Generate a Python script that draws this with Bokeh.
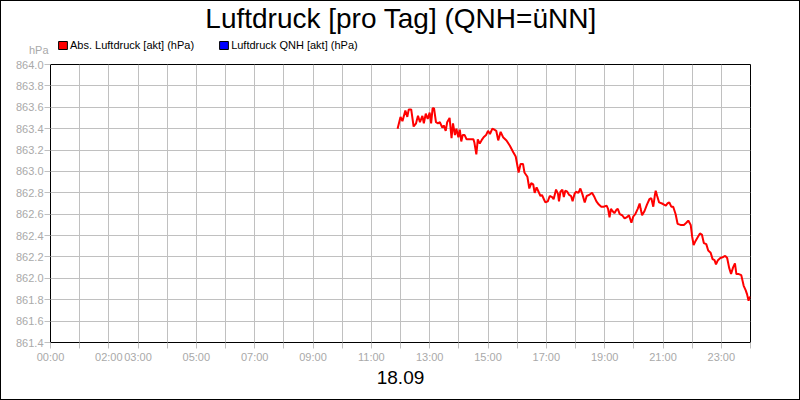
from bokeh.plotting import figure
from bokeh.layouts import column
from bokeh.models import (Range1d, FixedTicker, Label, Legend, LegendItem,
                          PrintfTickFormatter, LinearAxis)
from bokeh.embed import file_html
from bokeh.resources import INLINE

title_text = "Luftdruck [pro Tag] (QNH=üNN]"
date_text = "18.09"
unit_text = "hPa"
series_names = ["Abs. Luftdruck [akt] (hPa)", "Luftdruck QNH [akt] (hPa)"]
series_colors = ["#ff0000", "#0000ff"]

y_ticks = [861.4, 861.6, 861.8, 862.0, 862.2, 862.4, 862.6, 862.8,
           863.0, 863.2, 863.4, 863.6, 863.8, 864.0]
x_hours = list(range(25))
x_tick_labels = {0: "00:00", 2: "02:00", 3: "03:00", 5: "05:00", 7: "07:00",
                 9: "09:00", 11: "11:00", 13: "13:00", 15: "15:00",
                 17: "17:00", 19: "19:00", 21: "21:00", 23: "23:00"}

times = [
    "11:54", "12:00", "12:04", "12:10", "12:14", "12:17", "12:22", "12:27",
    "12:32", "12:36", "12:40", "12:45", "12:48", "12:52", "12:56", "13:00",
    "13:03", "13:06", "13:09", "13:13", "13:17", "13:21", "13:26", "13:29",
    "13:33", "13:36", "13:41", "13:45", "13:48", "13:52", "13:55", "13:59",
    "14:02", "14:05", "14:08", "14:12", "14:16", "14:23", "14:30", "14:32",
    "14:36", "14:39", "14:43", "14:48", "14:51", "14:56", "15:00", "15:04",
    "15:09", "15:13", "15:17", "15:21", "15:26", "15:31", "15:38", "15:45",
    "15:52", "15:57", "15:59", "16:03", "16:07", "16:12", "16:15", "16:21",
    "16:25", "16:29", "16:33", "16:36", "16:40", "16:44", "16:48", "16:51",
    "16:55", "16:58", "17:03", "17:07", "17:12", "17:15", "17:20", "17:24",
    "17:26", "17:29", "17:33", "17:36", "17:39", "17:43", "17:47", "17:51",
    "17:54", "17:58", "18:01", "18:06", "18:10", "18:14", "18:19", "18:23",
    "18:28", "18:34", "18:39", "18:43", "18:48", "18:53", "18:58", "19:04",
    "19:07", "19:10", "19:13", "19:16", "19:20", "19:24", "19:27", "19:31",
    "19:36", "19:41", "19:45", "19:50", "19:55", "19:59", "20:03", "20:08",
    "20:12", "20:14", "20:17", "20:22", "20:27", "20:32", "20:36", "20:40",
    "20:43", "20:45", "20:48", "20:52", "20:58", "21:02", "21:06", "21:09",
    "21:13", "21:17", "21:21", "21:26", "21:30", "21:36", "21:43", "21:48",
    "21:52", "21:57", "22:00", "22:03", "22:07", "22:12", "22:16", "22:20",
    "22:24", "22:29", "22:33", "22:38", "22:42", "22:46", "22:49", "22:53",
    "22:58", "23:04", "23:08", "23:12", "23:16", "23:20", "23:24", "23:28",
    "23:31", "23:36", "23:41", "23:46", "23:50", "23:53", "23:56", "23:59",
]
abs_pressure = [
    863.40, 863.51, 863.47, 863.57, 863.51, 863.58, 863.58, 863.42,
    863.45, 863.52, 863.46, 863.52, 863.45, 863.54, 863.49, 863.55,
    863.45, 863.59, 863.59, 863.46, 863.45, 863.46, 863.41, 863.43,
    863.38, 863.46, 863.50, 863.31, 863.45, 863.34, 863.40, 863.32,
    863.39, 863.28, 863.34, 863.34, 863.30, 863.30, 863.30, 863.27,
    863.16, 863.30, 863.26, 863.30, 863.32, 863.34, 863.38, 863.35,
    863.40, 863.39, 863.38, 863.29, 863.37, 863.32, 863.29, 863.24,
    863.18, 863.14, 863.09, 862.99, 863.07, 863.07, 862.99, 862.95,
    862.84, 862.89, 862.88, 862.80, 862.85, 862.81, 862.77, 862.78,
    862.74, 862.71, 862.72, 862.77, 862.76, 862.74, 862.83, 862.79,
    862.72, 862.81, 862.83, 862.76, 862.82, 862.81, 862.78, 862.77,
    862.72, 862.79, 862.81, 862.80, 862.84, 862.79, 862.71, 862.77,
    862.78, 862.80, 862.76, 862.72, 862.69, 862.67, 862.67, 862.68,
    862.65, 862.57, 862.65, 862.63, 862.61, 862.64, 862.65, 862.60,
    862.59, 862.56, 862.57, 862.59, 862.52, 862.58, 862.60, 862.65,
    862.70, 862.65, 862.59, 862.63, 862.69, 862.74, 862.75, 862.67,
    862.77, 862.82, 862.77, 862.71, 862.70, 862.69, 862.68, 862.70,
    862.71, 862.67, 862.67, 862.60, 862.51, 862.50, 862.50, 862.52,
    862.54, 862.50, 862.39, 862.31, 862.35, 862.39, 862.42, 862.41,
    862.33, 862.32, 862.26, 862.24, 862.18, 862.17, 862.13, 862.17,
    862.19, 862.20, 862.21, 862.19, 862.10, 862.04, 862.10, 862.14,
    862.04, 862.04, 862.03, 861.93, 861.89, 861.85, 861.79, 861.83,
]
qnh_times = []
qnh_pressure = []


def to_hours(t):
    h, m = t.split(":")
    return int(h) + int(m) / 60.0


x_abs = [to_hours(t) for t in times]
x_qnh = [to_hours(t) for t in qnh_times]

FONT = "Liberation Sans"
GREY_TEXT = "#a9a9a9"
GRID = "#c0c0c0"
NAN = float("nan")

# ---- header strip (title, legend, unit) ----
top = figure(width=798, height=56, x_range=Range1d(50, 750),
             y_range=Range1d(57, 1), x_axis_type=None, y_axis_type=None,
             title=None, output_backend="svg", toolbar_location=None,
             min_border_left=49, min_border_right=49,
             min_border_top=0, min_border_bottom=0)
top.grid.visible = False
top.outline_line_color = None
top.background_fill_color = "white"
top.border_fill_color = "white"

unit_axis = LinearAxis(ticker=FixedTicker(ticks=[49]),
                       major_label_overrides={49: unit_text},
                       axis_line_color=None, major_tick_line_color=None,
                       minor_tick_line_color=None, major_tick_out=0,
                       major_tick_in=0, major_label_standoff=2,
                       major_label_text_font=FONT,
                       major_label_text_font_size="11px",
                       major_label_text_color=GREY_TEXT)
top.add_layout(unit_axis, "left")

# legend swatches (no visible marks of their own)
sw1 = top.quad(left=[NAN], right=[NAN], top=[NAN], bottom=[NAN],
               fill_color=series_colors[0], line_color="black", line_width=1)
sw2 = top.quad(left=[NAN], right=[NAN], top=[NAN], bottom=[NAN],
               fill_color=series_colors[1], line_color="black", line_width=1)
legend = Legend(items=[LegendItem(label=series_names[0], renderers=[sw1]),
                       LegendItem(label=series_names[1], renderers=[sw2])],
                orientation="horizontal", location=(7, 6),
                glyph_width=11, glyph_height=10, label_height=10,
                label_standoff=2, spacing=24, padding=0, margin=0,
                border_line_color=None, background_fill_alpha=0,
                label_text_font=FONT, label_text_font_size="11px",
                label_text_color="black")
top.add_layout(legend)

top.add_layout(Label(x=400.5, y=18, text=title_text, text_align="center",
                     text_baseline="middle", text_font=FONT,
                     text_font_size="28px", text_color="black"))

# ---- main chart ----
p = figure(width=798, height=342, x_range=Range1d(0, 24),
           y_range=Range1d(y_ticks[0], y_ticks[-1]), title=None,
           output_backend="svg", toolbar_location=None,
           min_border_left=49, min_border_right=49,
           min_border_top=7, min_border_bottom=57)
p.background_fill_color = "white"
p.border_fill_color = "white"
p.outline_line_color = "black"
p.outline_line_width = 1

p.xgrid.ticker = FixedTicker(ticks=x_hours)
p.ygrid.ticker = FixedTicker(ticks=y_ticks)
for g in (p.xgrid, p.ygrid):
    g.grid_line_color = GRID
    g.grid_line_width = 1

p.xaxis.ticker = FixedTicker(ticks=x_hours)
p.xaxis.major_label_overrides = {h: x_tick_labels.get(h, "") for h in x_hours}
p.yaxis.ticker = FixedTicker(ticks=y_ticks)
p.yaxis.formatter = PrintfTickFormatter(format="%.1f")
for ax in (p.xaxis[0], p.yaxis[0]):
    ax.axis_line_color = "black"
    ax.major_tick_line_color = GRID
    ax.major_tick_out = 6
    ax.major_tick_in = 0
    ax.minor_tick_line_color = None
    ax.major_label_text_font = FONT
    ax.major_label_text_font_size = "11px"
    ax.major_label_text_color = GREY_TEXT
p.xaxis.major_label_standoff = 2
p.yaxis.major_label_standoff = 1
p.xaxis.axis_label = date_text
p.xaxis.axis_label_text_font = FONT
p.xaxis.axis_label_text_font_size = "19px"
p.xaxis.axis_label_text_font_style = "normal"
p.xaxis.axis_label_text_color = "black"
p.xaxis.axis_label_standoff = 5

p.line(x_abs, abs_pressure, line_color=series_colors[0], line_width=2)
p.line(x_qnh, qnh_pressure, line_color=series_colors[1], line_width=2)

layout = column(top, p, spacing=0)
layout.styles = {"border": "1px solid black"}

open("out.html", "w").write(file_html(layout, INLINE))
